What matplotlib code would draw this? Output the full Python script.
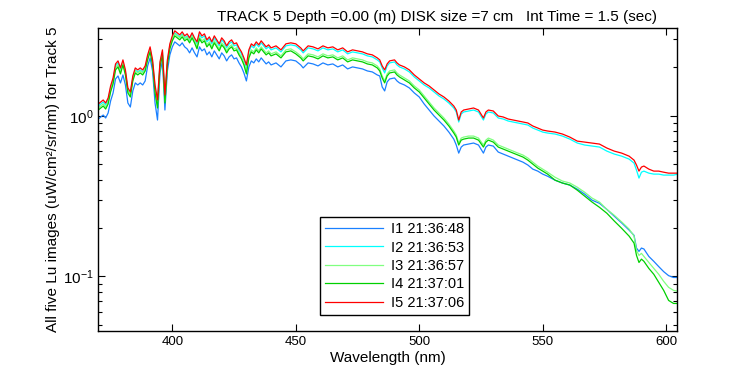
import matplotlib
matplotlib.use("Agg")
import matplotlib.pyplot as plt
from matplotlib.ticker import FixedLocator, NullFormatter

plt.rcParams["font.family"] = ["Liberation Sans", "DejaVu Sans"]
plt.rcParams["mathtext.default"] = "regular"

# wavelength grid (nm)
wavelength = [
    370, 371, 372, 373, 374, 375, 376, 377, 378, 379, 380, 381, 382, 383, 384, 385,
    386, 387, 388, 389, 390, 391, 392, 393, 394, 395, 396, 397, 398, 399, 400, 401,
    402, 403, 404, 405, 406, 407, 408, 409, 410, 411, 412, 413, 414, 415, 416, 417,
    418, 419, 420, 421, 422, 423, 424, 425, 426, 427, 428, 429, 430, 431, 432, 433,
    434, 435, 436, 437, 438, 439, 440, 442, 444, 446, 448, 450, 452, 453, 455, 457,
    459, 461, 463, 465, 467, 469, 471, 473, 475, 477, 479, 481, 483, 484, 485, 486,
    487, 488, 490, 491, 492, 494, 496, 498, 500, 502, 504, 506, 508, 510, 512, 514,
    515, 516, 517, 518, 520, 522, 524, 526, 527, 528, 530, 532, 534, 536, 538, 540,
    542, 544, 546, 548, 550, 552, 555, 558, 561, 564, 567, 570, 573, 576, 579, 582,
    585, 587, 588, 589, 590, 591, 593, 595, 597, 599, 601, 603, 605,
]

lu_i1 = [
    0.954, 0.982, 1.010, 0.968, 1.040, 1.235, 1.386, 1.694, 1.768, 1.600, 1.794, 1.554, 1.200, 1.133, 1.426, 1.600,
    1.554, 1.600, 1.554, 1.646, 2.042, 2.291, 1.900, 1.200, 0.940, 1.846, 2.194, 1.085, 1.900, 2.392, 2.683, 2.883,
    2.802, 2.722, 2.842, 2.683, 2.607, 2.462, 2.645, 2.462, 2.324, 2.683, 2.533, 2.607, 2.392, 2.497, 2.324, 2.533,
    2.392, 2.258, 2.462, 2.358, 2.194, 2.324, 2.392, 2.258, 2.291, 2.132, 2.013, 1.846, 1.646, 2.013, 2.194, 2.132,
    2.258, 2.163, 2.291, 2.194, 2.101, 2.163, 2.071, 2.132, 2.013, 2.194, 2.226, 2.194, 2.071, 1.984, 2.132, 2.101,
    2.042, 2.132, 2.071, 2.101, 2.013, 2.071, 1.956, 2.013, 1.984, 1.956, 1.900, 1.873, 1.794, 1.768, 1.510, 1.426,
    1.623, 1.694, 1.718, 1.646, 1.600, 1.554, 1.489, 1.386, 1.308, 1.183, 1.085, 0.996, 0.927, 0.863, 0.791, 0.715,
    0.657, 0.585, 0.638, 0.657, 0.666, 0.676, 0.657, 0.585, 0.638, 0.657, 0.647, 0.594, 0.577, 0.560, 0.545, 0.529,
    0.514, 0.493, 0.465, 0.452, 0.433, 0.420, 0.397, 0.381, 0.370, 0.349, 0.325, 0.298, 0.285, 0.261, 0.237, 0.215,
    0.194, 0.180, 0.150, 0.143, 0.150, 0.148, 0.133, 0.124, 0.115, 0.107, 0.101, 0.0984, 0.0984,
]

lu_i2 = [
    1.149, 1.183, 1.217, 1.166, 1.253, 1.489, 1.670, 2.042, 2.132, 1.928, 2.163, 1.873, 1.447, 1.366, 1.718, 1.928,
    1.873, 1.928, 1.873, 1.984, 2.324, 2.607, 2.163, 1.489, 1.200, 2.101, 2.497, 1.289, 2.163, 2.722, 3.053, 3.281,
    3.187, 3.097, 3.234, 3.053, 3.142, 2.967, 3.187, 2.967, 2.802, 3.187, 3.053, 3.142, 2.883, 3.010, 2.802, 3.053,
    2.883, 2.722, 2.967, 2.842, 2.645, 2.802, 2.883, 2.722, 2.762, 2.570, 2.427, 2.226, 1.984, 2.497, 2.722, 2.645,
    2.802, 2.683, 2.842, 2.722, 2.607, 2.683, 2.570, 2.645, 2.497, 2.722, 2.762, 2.722, 2.570, 2.462, 2.645, 2.607,
    2.533, 2.645, 2.570, 2.607, 2.497, 2.570, 2.427, 2.497, 2.462, 2.427, 2.358, 2.324, 2.226, 2.163, 1.984, 1.846,
    2.042, 2.132, 2.163, 2.071, 2.013, 1.956, 1.873, 1.743, 1.646, 1.554, 1.489, 1.406, 1.327, 1.271, 1.200, 1.117,
    1.055, 0.914, 1.025, 1.055, 1.070, 1.085, 1.055, 0.940, 1.025, 1.055, 1.040, 0.968, 0.954, 0.927, 0.914, 0.901,
    0.888, 0.875, 0.838, 0.814, 0.791, 0.780, 0.769, 0.747, 0.715, 0.676, 0.657, 0.647, 0.638, 0.602, 0.577, 0.560,
    0.537, 0.507, 0.458, 0.409, 0.445, 0.452, 0.439, 0.433, 0.433, 0.427, 0.427, 0.427, 0.433,
]

lu_i3 = [
    1.117, 1.149, 1.183, 1.133, 1.217, 1.447, 1.623, 1.984, 2.071, 1.873, 2.132, 1.846, 1.426, 1.346, 1.694, 1.900,
    1.846, 1.900, 1.846, 1.956, 2.291, 2.570, 2.132, 1.426, 1.149, 2.071, 2.462, 1.235, 2.132, 2.683, 3.010, 3.234,
    3.142, 3.053, 3.187, 3.010, 3.097, 2.925, 3.142, 2.925, 2.683, 3.097, 2.925, 3.010, 2.762, 2.883, 2.683, 2.925,
    2.762, 2.607, 2.842, 2.722, 2.533, 2.683, 2.762, 2.607, 2.645, 2.462, 2.324, 2.132, 1.873, 2.358, 2.570, 2.497,
    2.645, 2.533, 2.683, 2.570, 2.462, 2.533, 2.427, 2.497, 2.358, 2.570, 2.607, 2.497, 2.358, 2.258, 2.427, 2.392,
    2.324, 2.427, 2.358, 2.392, 2.291, 2.358, 2.226, 2.291, 2.258, 2.226, 2.163, 2.132, 2.042, 1.956, 1.768, 1.646,
    1.820, 1.900, 1.928, 1.846, 1.794, 1.718, 1.646, 1.532, 1.447, 1.327, 1.217, 1.117, 1.040, 0.968, 0.888, 0.803,
    0.758, 0.676, 0.726, 0.736, 0.747, 0.747, 0.726, 0.657, 0.705, 0.726, 0.705, 0.657, 0.638, 0.620, 0.602, 0.585,
    0.569, 0.545, 0.514, 0.486, 0.465, 0.445, 0.414, 0.392, 0.381, 0.359, 0.334, 0.307, 0.290, 0.261, 0.240, 0.218,
    0.197, 0.178, 0.145, 0.135, 0.139, 0.133, 0.122, 0.112, 0.103, 0.0931, 0.0854, 0.0818, 0.0806,
]

lu_i4 = [
    1.085, 1.117, 1.149, 1.101, 1.183, 1.406, 1.577, 1.928, 2.013, 1.820, 2.071, 1.794, 1.386, 1.308, 1.646, 1.846,
    1.794, 1.846, 1.794, 1.900, 2.226, 2.497, 2.071, 1.386, 1.117, 2.013, 2.392, 1.200, 2.071, 2.607, 2.925, 3.142,
    3.053, 2.967, 3.097, 2.925, 3.010, 2.842, 3.053, 2.842, 2.607, 3.010, 2.842, 2.925, 2.683, 2.802, 2.607, 2.842,
    2.683, 2.533, 2.762, 2.645, 2.462, 2.607, 2.683, 2.533, 2.570, 2.392, 2.258, 2.071, 1.820, 2.291, 2.497, 2.427,
    2.570, 2.462, 2.607, 2.497, 2.392, 2.462, 2.358, 2.427, 2.291, 2.497, 2.533, 2.427, 2.291, 2.194, 2.358, 2.324,
    2.258, 2.358, 2.291, 2.324, 2.226, 2.291, 2.163, 2.226, 2.194, 2.163, 2.101, 2.071, 1.984, 1.900, 1.718, 1.600,
    1.768, 1.846, 1.873, 1.794, 1.743, 1.670, 1.600, 1.489, 1.406, 1.289, 1.183, 1.085, 1.010, 0.940, 0.863, 0.780,
    0.736, 0.657, 0.705, 0.715, 0.726, 0.726, 0.705, 0.638, 0.685, 0.705, 0.685, 0.638, 0.620, 0.602, 0.585, 0.569,
    0.553, 0.529, 0.500, 0.472, 0.452, 0.433, 0.397, 0.381, 0.370, 0.344, 0.316, 0.290, 0.269, 0.247, 0.221, 0.199,
    0.178, 0.161, 0.135, 0.122, 0.128, 0.124, 0.112, 0.103, 0.0918, 0.0818, 0.0708, 0.0678, 0.0678,
]

lu_i5 = [
    1.183, 1.217, 1.253, 1.200, 1.289, 1.532, 1.718, 2.101, 2.194, 1.984, 2.226, 1.928, 1.489, 1.406, 1.768, 1.984,
    1.928, 1.984, 1.928, 2.042, 2.392, 2.683, 2.226, 1.554, 1.253, 2.163, 2.570, 1.346, 2.226, 2.802, 3.142, 3.376,
    3.281, 3.187, 3.328, 3.142, 3.234, 3.053, 3.281, 3.053, 2.883, 3.328, 3.142, 3.234, 2.967, 3.097, 2.883, 3.142,
    2.967, 2.802, 3.053, 2.925, 2.722, 2.883, 2.967, 2.802, 2.842, 2.645, 2.497, 2.291, 2.071, 2.570, 2.802, 2.722,
    2.883, 2.762, 2.925, 2.802, 2.683, 2.762, 2.645, 2.722, 2.570, 2.802, 2.842, 2.802, 2.645, 2.533, 2.722, 2.683,
    2.607, 2.722, 2.645, 2.683, 2.570, 2.645, 2.497, 2.570, 2.533, 2.497, 2.427, 2.392, 2.291, 2.226, 2.042, 1.928,
    2.101, 2.194, 2.226, 2.132, 2.071, 2.013, 1.928, 1.794, 1.694, 1.600, 1.532, 1.447, 1.366, 1.308, 1.235, 1.149,
    1.085, 0.940, 1.055, 1.085, 1.101, 1.117, 1.085, 0.968, 1.055, 1.085, 1.070, 0.996, 0.982, 0.954, 0.940, 0.927,
    0.914, 0.901, 0.863, 0.838, 0.814, 0.803, 0.791, 0.769, 0.736, 0.695, 0.685, 0.676, 0.666, 0.629, 0.602, 0.585,
    0.560, 0.529, 0.493, 0.452, 0.479, 0.486, 0.465, 0.452, 0.452, 0.445, 0.439, 0.439, 0.439,
]

labels = ["I1 21:36:48", "I2 21:36:53", "I3 21:36:57", "I4 21:37:01", "I5 21:37:06"]
colors = ["#1a80ff", "#00ffff", "#80ff80", "#00d000", "#ff0000"]

fig = plt.figure(figsize=(7.5, 3.75), dpi=100)
ax = fig.add_axes([0.131, 0.117, 0.772, 0.808])

for series, lab, col in zip([lu_i1, lu_i2, lu_i3, lu_i4, lu_i5], labels, colors):
    ax.plot(wavelength, series, color=col, lw=0.9, label=lab)

ax.set_yscale("log")
ax.set_xlim(370, 604.5)
ax.set_ylim(0.0456, 3.51)
ax.xaxis.set_major_locator(FixedLocator([400, 450, 500, 550, 600]))
ax.yaxis.set_minor_formatter(NullFormatter())
ax.tick_params(which="both", direction="in", top=True, right=True)
ax.tick_params(axis="x", labelsize=9.5)
ax.tick_params(axis="y", labelsize=11)
ax.tick_params(which="major", length=5, width=0.8)
ax.tick_params(which="minor", length=3, width=0.8)
for sp in ax.spines.values():
    sp.set_linewidth(1.0)

ax.set_title("TRACK 5 Depth =0.00 (m) DISK size =7 cm   Int Time = 1.5 (sec)",
             fontsize=11, pad=5, x=0.585)
ax.set_xlabel("Wavelength (nm)", fontsize=11, labelpad=2)
ax.set_ylabel("All five Lu images (uW/cm²/sr/nm) for Track 5", fontsize=11, labelpad=2)

leg = ax.legend(loc="lower left", bbox_to_anchor=(0.37, 0.03), fontsize=10.5,
                handlelength=4.0, labelspacing=0.3, borderpad=0.35, handletextpad=0.5,
                fancybox=False, framealpha=1, edgecolor="black")
leg.get_frame().set_linewidth(1.0)

fig.savefig("out.png", dpi=100)
